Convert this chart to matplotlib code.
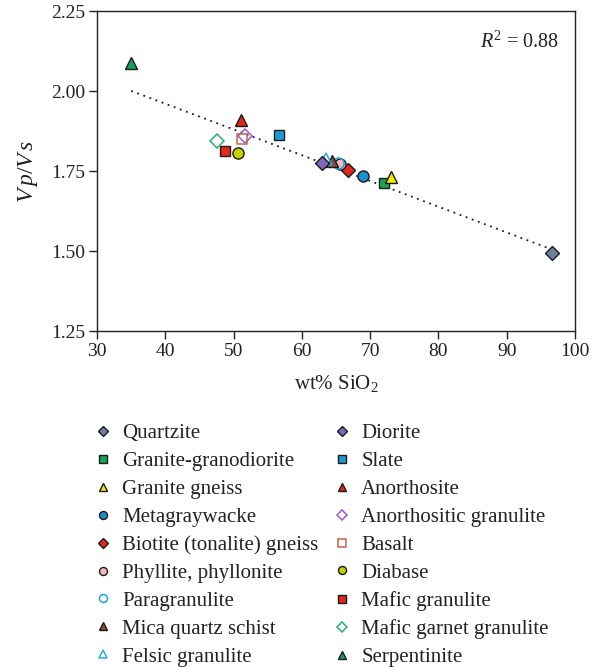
import matplotlib
matplotlib.use("Agg")
import matplotlib.pyplot as plt
from matplotlib.lines import Line2D

plt.rcParams["font.family"] = ["Liberation Serif", "DejaVu Serif"]
plt.rcParams["mathtext.fontset"] = "custom"
plt.rcParams["mathtext.rm"] = "Liberation Serif"
plt.rcParams["mathtext.it"] = "Liberation Serif:italic"

# Rock types, SiO2 content (wt%) and Vp/Vs ratio
rocks = [
    "Quartzite", "Granite-granodiorite", "Granite gneiss", "Metagraywacke",
    "Biotite (tonalite) gneiss", "Phyllite, phyllonite", "Paragranulite",
    "Mica quartz schist", "Felsic granulite", "Diorite", "Slate", "Anorthosite",
    "Anorthositic granulite", "Basalt", "Diabase", "Mafic granulite",
    "Mafic garnet granulite", "Serpentinite",
]
sio2 = [96.6, 72.0, 73.0, 69.0, 66.7, 65.6, 65.3, 64.4, 63.6, 62.9, 56.6, 51.1,
        51.6, 51.2, 50.6, 48.8, 47.6, 35.0]
vpvs = [1.495, 1.713, 1.734, 1.737, 1.753, 1.772, 1.775, 1.781, 1.788, 1.775,
        1.864, 1.910, 1.862, 1.851, 1.806, 1.813, 1.845, 2.090]

# Marker shape, face colour, edge colour per rock type (None face = open symbol)
markers = ["D", "s", "^", "o", "D", "o", "o", "^", "^", "D", "s", "^",
           "D", "s", "o", "s", "D", "^"]
faces = ["#6e7f9c", "#17a354", "#f7e600", "#1a8fd0", "#e2271c", "#f7b9bd", None,
         "#8c4a3b", None, "#7f68c2", "#1a9bd7", "#e2271c", None, None,
         "#c5d300", "#e22a1b", None, "#12a15e"]
edges = ["#1a1a1a", "#1a1a1a", "#1a1a1a", "#1a1a1a", "#1a1a1a", "#1a1a1a",
         "#1ea4e3", "#1a1a1a", "#2aaae3", "#1a1a1a", "#1a1a1a", "#1a1a1a",
         "#a455d6", "#c0654c", "#1a1a1a", "#1a1a1a", "#22b470", "#1a1a1a"]
sizes = [7, 7.5, 8, 8, 7, 8, 8, 8, 8, 7, 7.5, 8, 7, 7.5, 8, 7.5, 7, 8]

# Linear trend: Vp/Vs = intercept + slope * SiO2
trend_intercept = 2.283
trend_slope = -0.00804
trend_range = [35.0, 96.6]
r_squared = 0.88

fig = plt.figure(figsize=(5.99, 6.67), dpi=100)
ax = fig.add_axes([0.162, 0.503, 0.798, 0.480])

tx = trend_range
ty = [trend_intercept + trend_slope * v for v in tx]
ax.plot(tx, ty, color="#1a1a1a", linestyle=(0, (1, 2.6)), linewidth=1.3, zorder=1)

handles = []
for name, x, y, m, fc, ec, ms in zip(rocks, sio2, vpvs, markers, faces, edges, sizes):
    face = "none" if fc is None else fc
    mew = 1.0 if fc is not None else 1.1
    ax.plot([x], [y], linestyle="none", marker=m, markersize=ms,
            markerfacecolor=face, markeredgecolor=ec, markeredgewidth=mew, zorder=3)
    handles.append(Line2D([], [], linestyle="none", marker=m, markersize=ms * 0.72,
                          markerfacecolor=face, markeredgecolor=ec,
                          markeredgewidth=mew, label=name))

ax.set_xlim(30, 100)
ax.set_ylim(1.25, 2.25)
ax.set_xticks(range(30, 101, 10))
ax.set_yticks([1.25, 1.50, 1.75, 2.00, 2.25])
ax.set_yticklabels(["1.25", "1.50", "1.75", "2.00", "2.25"])
ax.tick_params(direction="out", length=5.5, width=1, labelsize=14, colors="#222222",
               pad=3)
for sp in ax.spines.values():
    sp.set_linewidth(1.0)
    sp.set_color("#222222")

ax.set_xlabel("wt% SiO$_2$", fontsize=15, labelpad=9, color="#222222")
ax.set_ylabel(r"$V\,p/V\,s$", fontsize=17, labelpad=8, color="#222222")

ax.text(0.967, 0.905, "$R^2$ = %.2f" % r_squared, transform=ax.transAxes,
        ha="right", va="center", fontsize=14.5, color="#222222")

# Two legend columns, each anchored at its own left edge
legend_kw = dict(loc="upper left", frameon=False, fontsize=15,
                 handlelength=1.0, handletextpad=0.42, labelspacing=0.40,
                 borderaxespad=0, borderpad=0, labelcolor="#222222")
half = (len(handles) + 1) // 2
fig.legend(handles=handles[:half], bbox_to_anchor=(0.1545, 0.365), **legend_kw)
fig.legend(handles=handles[half:], bbox_to_anchor=(0.5535, 0.365), **legend_kw)

fig.savefig("out.png", dpi=100)
